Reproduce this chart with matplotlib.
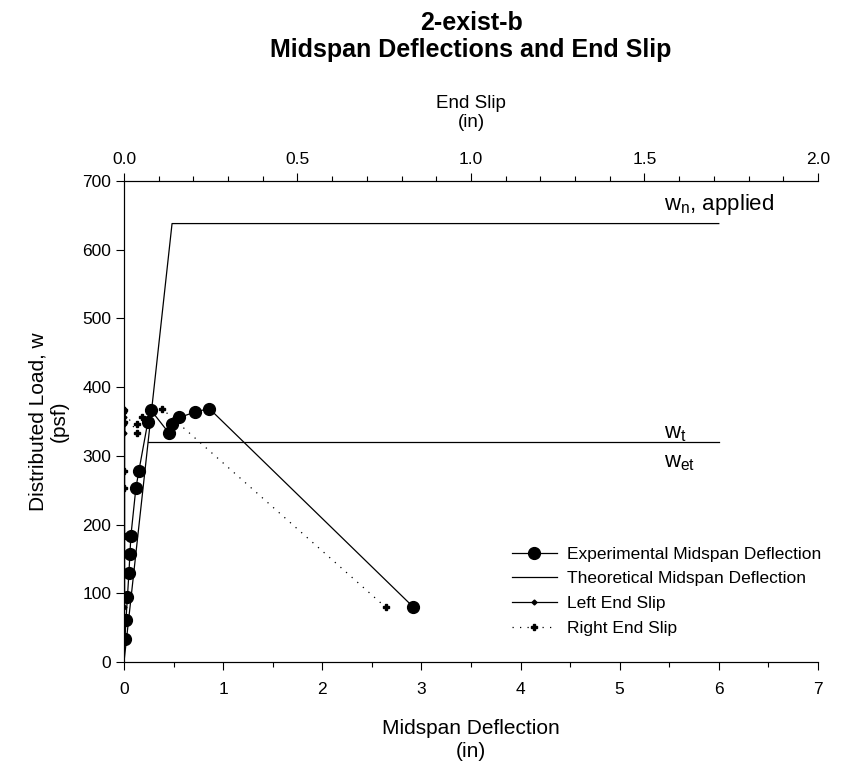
import numpy as np
import matplotlib
matplotlib.use("Agg")
import matplotlib.pyplot as plt
from matplotlib.ticker import MultipleLocator, FormatStrFormatter

plt.rcParams['font.family'] = ['Liberation Sans', 'DejaVu Sans']

# applied load steps (psf)
load = [34, 61, 95, 130, 157, 184, 253, 278, 349, 367, 334, 346, 356, 364, 369, 80]
# measured midspan deflection (in)
mid_defl = [0.01, 0.02, 0.035, 0.05, 0.06, 0.07, 0.12, 0.15, 0.24, 0.27,
            0.45, 0.48, 0.56, 0.72, 0.86, 2.92]
# end slips (in)
left_slip = [0.0, 0.0, 0.0, 0.0, 0.0, 0.0, 0.0, 0.0, 0.0, 0.0,
             0.0, 0.0, 0.0, 0.0, 0.0, 0.0]
right_slip = [0.0, 0.0, 0.0, 0.0, 0.0, 0.0, 0.0, 0.0, 0.0, 0.0,
              0.037, 0.039, 0.051, 0.075, 0.109, 0.754]

# theoretical bilinear response and the w_t / w_et level
theo_defl = [0.0, 0.485, 6.0]
theo_load = [0, 638, 638]
wt_defl = [0.243, 6.0]
wt_load = [320, 320]

fig = plt.figure(figsize=(8.52, 7.7), dpi=100)
ax = fig.add_axes([0.1455, 0.140, 0.8145, 0.625])
ax2 = ax.twiny()

lw = 0.9
h1, = ax.plot(mid_defl, load, color='black', lw=lw, marker='o', ms=8.5,
              label='Experimental Midspan Deflection')
h2, = ax.plot(theo_defl, theo_load, color='black', lw=lw,
              label='Theoretical Midspan Deflection')
ax.plot(wt_defl, wt_load, color='black', lw=lw)
h3, = ax2.plot(left_slip, load, color='black', lw=lw, marker='D', ms=2.5,
               label='Left End Slip')
h4, = ax2.plot(right_slip, load, color='black', lw=lw, marker='P', ms=4,
               dashes=(1, 5), label='Right End Slip')

ax.set_xlim(0, 7)
ax.set_ylim(0, 700)
ax2.set_xlim(0, 2.0)
ax.xaxis.set_major_locator(MultipleLocator(1))
ax.xaxis.set_minor_locator(MultipleLocator(0.5))
ax.yaxis.set_major_locator(MultipleLocator(100))
ax2.xaxis.set_major_locator(MultipleLocator(0.5))
ax2.xaxis.set_minor_locator(MultipleLocator(0.1))
ax2.xaxis.set_major_formatter(FormatStrFormatter('%.1f'))

for a in (ax, ax2):
    a.spines['right'].set_visible(False)
    a.tick_params(which='major', direction='out', length=6, width=0.8,
                  labelsize=12.5, pad=8)
    a.tick_params(which='minor', direction='out', length=3.5, width=0.8)
    for s in a.spines.values():
        s.set_linewidth(0.8)
ax.tick_params(axis='y', which='major', pad=3)
ax2.tick_params(which='major', pad=4)

ax.set_xlabel('Midspan Deflection\n(in)', fontsize=15, labelpad=16,
              linespacing=1.25)
ax.set_ylabel('Distributed Load, w\n(psf)', fontsize=15, labelpad=10,
              linespacing=1.15)
ax2.set_xlabel('End Slip\n(in)', fontsize=13.5, labelpad=18, linespacing=1.15)

ax.text(5.45, 648, r'w$_\mathregular{n}$, applied', fontsize=16, va='bottom')
ax.text(5.45, 325, r'w$_\mathregular{t}$', fontsize=16, va='baseline')
ax.text(5.45, 306, r'w$_\mathregular{et}$', fontsize=16, va='top')

fig.text(0.553, 0.953, '2-exist-b\nMidspan Deflections and End Slip',
         ha='center', va='center', fontsize=18, fontweight='bold',
         linespacing=1.15)

ax.legend(handles=[h1, h2, h3, h4], loc='lower right',
          bbox_to_anchor=(1.02, 0.033), frameon=False, fontsize=12.5,
          handlelength=2.6, handletextpad=0.6, labelspacing=0.55,
          borderaxespad=0.2)

fig.savefig('out.png', dpi=100)
